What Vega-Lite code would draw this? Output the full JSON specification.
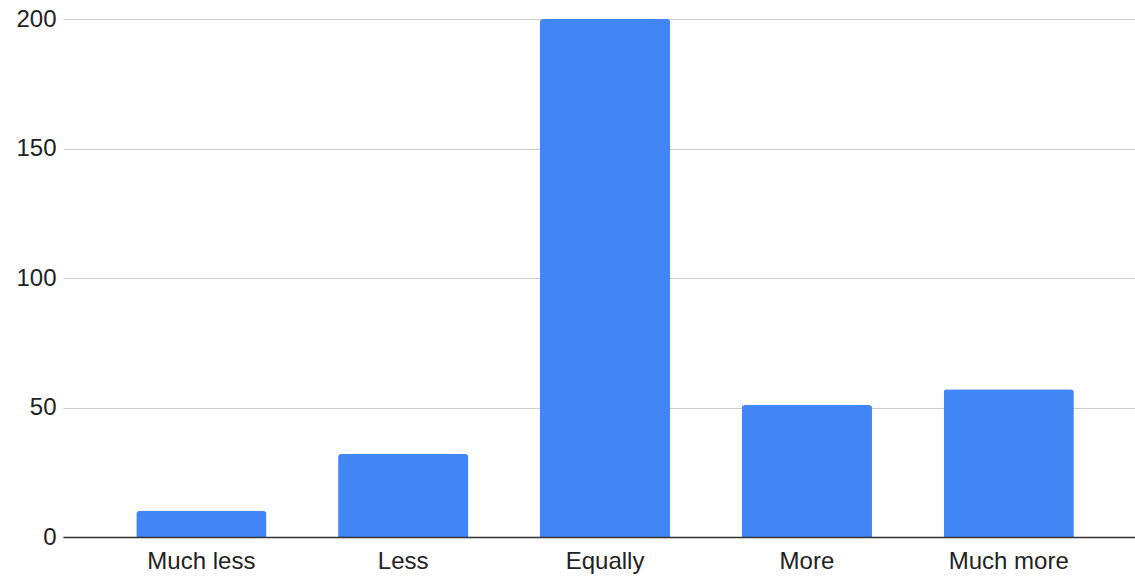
{
  "$schema": "https://vega.github.io/schema/vega-lite/v6.json",
  "autosize": "none",
  "width": 1072,
  "height": 518,
  "padding": {"left": 63, "top": 19, "right": 0, "bottom": 43},
  "background": "white",
  "config": {
    "view": {"stroke": null},
    "font": "Liberation Sans"
  },
  "data": {
    "values": [
      {"response": "Much less", "count": 10},
      {"response": "Less", "count": 32},
      {"response": "Equally", "count": 200},
      {"response": "More", "count": 51},
      {"response": "Much more", "count": 57}
    ]
  },
  "mark": {"type": "bar", "color": "#4285F4", "cornerRadiusTopLeft": 3, "cornerRadiusTopRight": 3},
  "encoding": {
    "x": {
      "field": "response",
      "type": "nominal",
      "sort": ["Much less", "Less", "Equally", "More", "Much more"],
      "scale": {"paddingInner": 0.355, "paddingOuter": 0.333, "align": 0.545},
      "axis": {
        "title": null,
        "labelAngle": 0,
        "labelFontSize": 24,
        "labelColor": "#222222",
        "labelFont": "Liberation Sans",
        "labelPadding": 12,
        "ticks": false,
        "domainColor": "#333333",
        "domainWidth": 1.5,
        "grid": false,
        "zindex": 1
      }
    },
    "y": {
      "field": "count",
      "type": "quantitative",
      "scale": {"domain": [0, 200], "nice": false},
      "axis": {
        "title": null,
        "values": [0, 50, 100, 150, 200],
        "labelFontSize": 24,
        "labelColor": "#222222",
        "labelFont": "Liberation Sans",
        "labelPadding": 7,
        "ticks": false,
        "domain": false,
        "gridColor": "#cccccc",
        "gridWidth": 1
      }
    }
  }
}
